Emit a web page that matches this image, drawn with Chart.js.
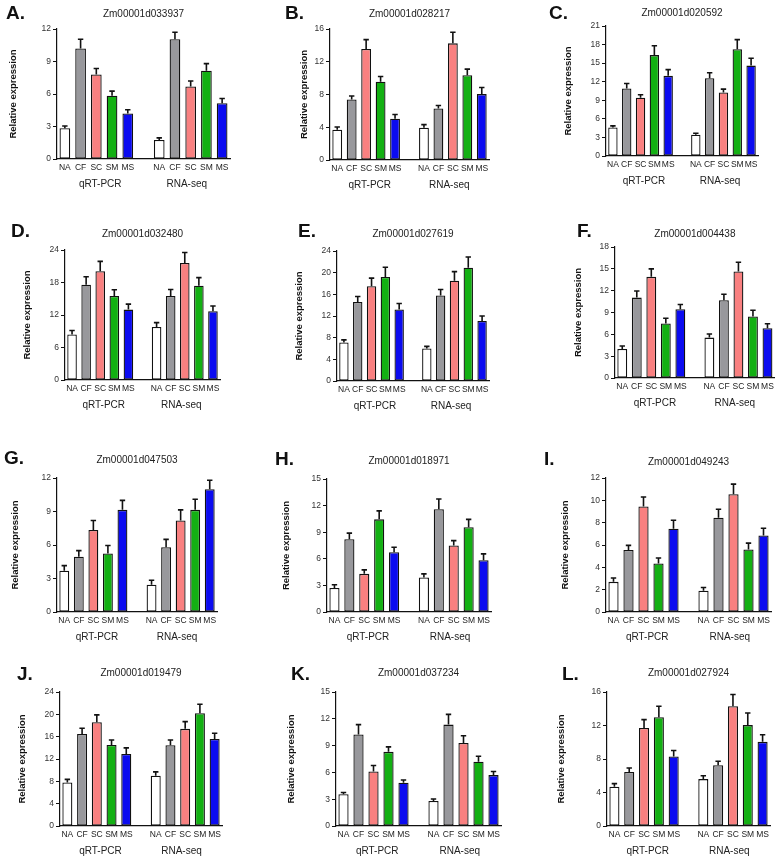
<!DOCTYPE html>
<html>
<head>
<meta charset="utf-8">
<script src="https://cdn.jsdelivr.net/npm/chart.js@4.4.0/dist/chart.umd.min.js"></script>
<style>
body{margin:0;background:#fff;width:778px;height:860px;position:relative;overflow:hidden;font-family:Arial,"Liberation Sans",Helvetica,sans-serif;}
canvas{position:absolute;}
.lt{position:absolute;font-weight:bold;font-size:19px;line-height:19px;color:#111;}
</style>
</head>
<body>
<script>
var conditions=['NA','CF','SC','SM','MS'];
var methods=['qRT-PCR','RNA-seq'];
var letters=['A.','B.','C.','D.','E.','F.','G.','H.','I.','J.','K.','L.'];
var genes=['Zm00001d033937','Zm00001d028217','Zm00001d020592','Zm00001d032480','Zm00001d027619','Zm00001d004438',
'Zm00001d047503','Zm00001d018971','Zm00001d049243','Zm00001d019479','Zm00001d037234','Zm00001d027924'];
var yMax=[12,16,21,24,24,18,12,15,12,24,15,16];
var yStep=[3,4,3,6,4,3,3,3,2,4,3,4];

// first 5 = qRT-PCR, last 5 = RNA-seq
var meanA=[2.85,10.2,7.8,5.85,4.2, 1.75,11.05,6.7,8.15,5.15];
var errA =[0.2,0.85,0.55,0.42,0.35, 0.2,0.65,0.5,0.65,0.43];
var meanB=[3.7,7.4,13.55,9.55,5.05, 3.95,6.3,14.25,10.35,8.05];
var errB =[0.33,0.42,1.15,0.65,0.5, 0.37,0.36,1.35,0.75,0.8];
var meanC=[4.6,10.9,9.4,16.3,12.95, 3.45,12.55,10.25,17.25,14.6];
var errC =[0.27,0.8,0.5,1.5,1.0, 0.22,0.9,0.55,1.55,1.2];
var meanD=[8.4,17.6,20.1,15.5,13.0, 9.8,15.5,21.6,17.4,12.7];
var errD =[0.75,1.45,1.8,1.15,1.0, 0.8,1.2,1.95,1.5,0.95];
var meanE=[7.1,14.6,17.5,19.2,13.2, 6.0,15.8,18.5,20.9,11.1];
var errE =[0.5,1.0,1.5,1.8,1.1, 0.4,1.1,1.7,2.0,0.9];
var meanF=[4.0,11.05,13.9,7.5,9.45, 5.55,10.7,14.65,8.45,6.85];
var errF =[0.4,0.9,1.1,0.7,0.65, 0.5,0.8,1.25,0.85,0.6];
var meanG=[3.7,4.95,7.35,5.25,9.15, 2.45,5.8,8.2,9.15,11.0];
var errG =[0.45,0.55,0.85,0.7,0.85, 0.4,0.7,0.95,0.95,0.8];
var meanH=[2.7,8.2,4.3,10.45,6.75, 3.9,11.6,7.5,9.55,5.85];
var errH =[0.37,0.7,0.45,0.95,0.55, 0.4,1.15,0.55,0.9,0.7];
var meanI=[2.7,5.55,9.45,4.35,7.45, 1.9,8.45,10.55,5.6,6.85];
var errI =[0.35,0.42,0.85,0.48,0.77, 0.3,0.75,0.9,0.57,0.65];
var meanJ=[7.8,16.5,18.6,14.5,12.9, 9.0,14.45,17.4,20.2,15.6];
var errJ =[0.55,1.0,1.3,0.9,1.1, 0.7,0.95,1.3,1.6,1.0];
var meanK=[3.55,10.25,6.1,8.3,4.85, 2.8,11.35,9.3,7.2,5.7];
var errK =[0.2,1.1,0.67,0.56,0.3, 0.22,1.15,0.8,0.6,0.4];
var meanL=[4.7,6.45,11.7,13.0,8.3, 5.6,7.25,14.3,12.05,10.05];
var errL =[0.36,0.48,1.0,1.3,0.72, 0.4,0.48,1.4,1.45,0.85];

var means=[meanA,meanB,meanC,meanD,meanE,meanF,meanG,meanH,meanI,meanJ,meanK,meanL];
var errs=[errA,errB,errC,errD,errE,errF,errG,errH,errI,errJ,errK,errL];

var barColors=['#ffffff','#98989c','#f98080','#13b013','#0b0bf0'];
var fontFam='Arial, "Liberation Sans", Helvetica, sans-serif';

// canvas left, y-title x, axis x, axis end x, title y, plot top, plot bottom, letter x, letter y
var boxes=[
[0,13,57,230,14,29,159,6,3],
[259,304,330,489,14,29,160,285,3],
[518,568,606,758,13,26,156,549,3],
[0,27,65,220,234,250,380,11,221],
[259,299,337,489,234,251,381,298,221],
[518,578,615,775,234,247,378,577,221],
[0,15,57,217,460,478,612,4,448],
[259,286,327,491,461,479,612,275,449],
[518,565,606,771,462,478,612,544,449],
[0,22,60,222,673,692,826,17,664],
[259,291,336,501,673,692,826,291,664],
[518,561,607,770,673,692,826,562,664]
];

var errorBars={
  id:'errorBars',
  afterDatasetsDraw:function(chart){
    var ctx=chart.ctx;
    var ds=chart.data.datasets[0];
    var meta=chart.getDatasetMeta(0);
    var ys=chart.scales.y;
    ctx.save();
    ctx.strokeStyle='#111';
    ctx.lineWidth=1.6;
    meta.data.forEach(function(el,i){
      var v=ds.data[i];
      if(v===null)return;
      var yt=ys.getPixelForValue(v+ds.errors[i]);
      ctx.beginPath();
      ctx.moveTo(el.x,el.y);
      ctx.lineTo(el.x,yt);
      ctx.moveTo(el.x-2.7,yt);
      ctx.lineTo(el.x+2.7,yt);
      ctx.stroke();
    });
    ctx.restore();
  }
};

for(var i=0;i<12;i++){
  var b=boxes[i];
  var cx=b[0];
  var cw=(i%3==2)?260:259;
  var ctop=b[4]-9;
  var ch=b[6]-ctop+34;
  var cv=document.createElement('canvas');
  cv.width=cw; cv.height=ch;
  cv.style.left=cx+'px'; cv.style.top=ctop+'px';
  document.body.appendChild(cv);

  var lt=document.createElement('div');
  lt.className='lt';
  lt.style.left=b[7]+'px'; lt.style.top=b[8]+'px';
  lt.textContent=letters[i];
  document.body.appendChild(lt);

  var padL=b[1]-cx-5.7;
  var padR=cw-(b[3]-cx);
  var yW=b[2]-cx-padL;
  var tTop=b[4]-ctop-6;
  var tBot=(b[5]-ctop)-tTop-12;

  var labels=conditions.concat([''],conditions);
  var vals=means[i].slice(0,5).concat([null],means[i].slice(5));
  var ers=errs[i].slice(0,5).concat([null],errs[i].slice(5));
  var cols=barColors.concat(['rgba(0,0,0,0)'],barColors);

  (function(yW){
  new Chart(cv.getContext('2d'),{
    type:'bar',
    data:{
      labels:labels,
      datasets:[{
        data:vals,
        errors:ers,
        backgroundColor:cols,
        borderColor:'#111',
        borderWidth:1.3,
        borderSkipped:false,
        barPercentage:0.68,
        categoryPercentage:1,
        xAxisID:'x',
        yAxisID:'y'
      }]
    },
    options:{
      responsive:false,
      animation:false,
      devicePixelRatio:1,
      layout:{padding:{left:padL,right:padR,top:0,bottom:0}},
      plugins:{
        legend:{display:false},
        tooltip:{enabled:false},
        title:{
          display:true,
          text:genes[i],
          fullSize:false,
          color:'#222',
          font:{family:fontFam,size:10,weight:'normal',lineHeight:1.2},
          padding:{top:tTop,bottom:tBot}
        }
      },
      scales:{
        x:{
          type:'category',
          position:'bottom',
          grid:{display:false,drawTicks:false},
          border:{display:true,color:'#111',width:1.2},
          ticks:{autoSkip:false,maxRotation:0,padding:4,color:'#222',font:{family:fontFam,size:8.5}},
          afterFit:function(s){s.height=16;}
        },
        x2:{
          type:'category',
          labels:methods,
          position:'bottom',
          grid:{display:false,drawTicks:false},
          border:{display:false},
          ticks:{padding:3,color:'#222',font:{family:fontFam,size:10}},
          afterFit:function(s){s.height=18;}
        },
        y:{
          min:0,
          max:yMax[i],
          ticks:{stepSize:yStep[i],padding:2,color:'#333',font:{family:fontFam,size:8.5}},
          grid:{display:true,drawOnChartArea:false,drawTicks:true,tickLength:4,color:'#111',lineWidth:1},
          border:{display:true,color:'#111',width:1.2},
          title:{display:true,text:'Relative expression',color:'#111',padding:0,font:{family:fontFam,size:9.5,weight:'bold',lineHeight:1.2}},
          afterFit:function(s){s.width=yW;}
        }
      }
    },
    plugins:[errorBars]
  });
  })(yW);
}
</script>
</body>
</html>
